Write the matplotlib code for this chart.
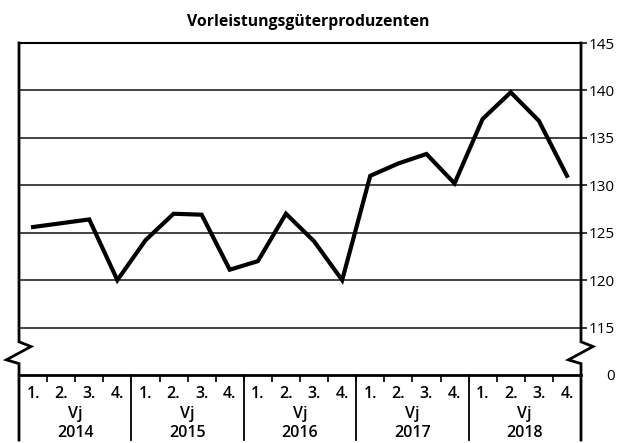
import matplotlib
matplotlib.use("Agg")
import matplotlib.pyplot as plt
import matplotlib.transforms as mtransforms
import numpy as np

plt.rcParams['font.family'] = ['Open Sans', 'DejaVu Sans']

title = "Vorleistungsgüterproduzenten"
years = ["2014", "2015", "2016", "2017", "2018"]
quarters = ["1.", "2.", "3.", "4."]
values = [125.6, 126.0, 126.4, 120.0,
          124.2, 127.0, 126.9, 121.1,
          122.0, 127.0, 124.1, 120.0,
          131.0, 132.3, 133.3, 130.2,
          137.0, 139.8, 136.8, 131.0]
ytick_vals = [110, 115, 120, 125, 130, 135, 140, 145]
ytick_labels = ["0", "115", "120", "125", "130", "135", "140", "145"]

W, H = 617, 443
fig = plt.figure(figsize=(W / 100, H / 100), dpi=100)
L, R, T, B = 19, 581, 43, 375
ax = fig.add_axes([L / W, (H - B) / H, (R - L) / W, (B - T) / H])

n = len(values)
x = np.arange(n) + 0.5
ax.set_xlim(0, n)
ax.set_ylim(110, 145)

# grid lines
for v in ytick_vals[1:-1]:
    ax.axhline(v, color='#111111', lw=1.1, zorder=1)

ax.plot(x, values, color='black', lw=3.0, solid_joinstyle='miter', zorder=3)

for s in ['left', 'right']:
    ax.spines[s].set_visible(False)
ax.spines['top'].set_linewidth(1.5)
ax.spines['bottom'].set_linewidth(2.0)

# y ticks on right
ax.yaxis.tick_right()
ax.set_yticks(ytick_vals)
ax.set_yticklabels(ytick_labels, fontsize=11)
ax.tick_params(axis='y', which='major', length=4, width=1.1, pad=20.5, right=True, left=False)
for lbl in ax.get_yticklabels():
    lbl.set_horizontalalignment('right')
ax.yaxis.get_major_ticks()[0].tick2line.set_visible(False)

# x ticks: quarter labels at centers, boundaries as minor ticks
ax.set_xticks(x)
ax.set_xticklabels(quarters * len(years), fontsize=11.5, fontweight='semibold')
ax.tick_params(axis='x', which='major', length=0, pad=8)
ax.set_xticks(np.arange(0, n + 1), minor=True)
ax.tick_params(axis='x', which='minor', length=5, width=1.2, direction='out')

# spines with break zigzags
bt = mtransforms.blended_transform_factory(ax.transAxes, ax.transData)
dx = 12 / (R - L)
ylow = 110 - (440 - B) / ((B - T) / 35)
for x0 in [0, 1]:
    xs = [x0, x0, x0 + dx, x0 - dx * 1.05, x0, x0]
    ys = [145, 113.5, 113.0, 111.6, 111.2, ylow]
    ax.plot(xs, ys, transform=bt, color='black', lw=2.0, clip_on=False, zorder=4,
            solid_joinstyle='miter')

# year separators
bx = mtransforms.blended_transform_factory(ax.transData, ax.transAxes)
yfrac = -(440 - B) / (B - T)
for k in range(1, len(years)):
    ax.plot([4 * k, 4 * k], [0, yfrac], transform=bx, color='black', lw=1.3, clip_on=False)

for k, yr in enumerate(years):
    xc = 4 * k + 2
    ax.text(xc, -(414 - B) / (B - T), "Vj", transform=bx, ha='center', va='center',
            fontsize=11.5, fontweight='semibold')
    ax.text(xc, -(433 - B) / (B - T), yr, transform=bx, ha='center', va='center',
            fontsize=11.5, fontweight='semibold')

fig.text(0.5, 1 - 22 / H, title, ha='center', va='center', fontsize=11.3, fontweight='bold')

fig.savefig("out.png", dpi=100)
